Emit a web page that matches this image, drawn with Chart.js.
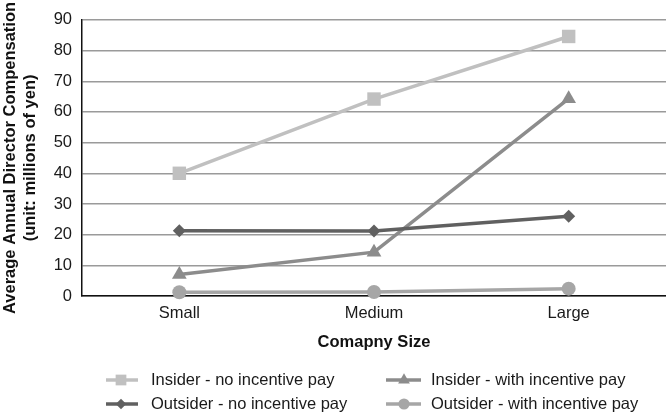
<!DOCTYPE html>
<html>
<head>
<meta charset="utf-8">
<script src="https://cdn.jsdelivr.net/npm/chart.js@4/dist/chart.umd.min.js"></script>
<style>
  html, body { margin: 0; padding: 0; background: #fff; }
  #wrap { width: 666px; height: 413px; position: relative; }
</style>
</head>
<body>
<div id="wrap"><canvas id="c" width="666" height="413"></canvas></div>
<script>
const categories = ['Small', 'Medium', 'Large'];
const insiderNoIncentive = [40, 64.2, 84.6];
const insiderWithIncentive = [7, 14.3, 64.3];
const outsiderNoIncentive = [21.3, 21.2, 26];
const outsiderWithIncentive = [1.2, 1.3, 2.4];
const yTicks = [0, 10, 20, 30, 40, 50, 60, 70, 80, 90];
const seriesNames = ['Insider - no incentive pay', 'Insider - with incentive pay', 'Outsider - no incentive pay', 'Outsider - with incentive pay'];

const FONT = "'Liberation Sans', Arial, Helvetica, sans-serif";
const FS = 16.5;

function ds(label, data, color, style, radius) {
  return {
    label, data,
    borderColor: color, backgroundColor: color,
    pointBackgroundColor: color, pointBorderColor: color,
    borderWidth: 3.5, pointStyle: style, pointRadius: radius, pointHoverRadius: radius,
    pointBorderWidth: 0, tension: 0, clip: false
  };
}

const datasets = [
  ds(seriesNames[3], outsiderWithIncentive, '#a6a6a6', 'circle', 7),
  ds(seriesNames[2], outsiderNoIncentive, '#606060', 'rectRot', 6.5),
  ds(seriesNames[1], insiderWithIncentive, '#8c8c8c', 'triangle', 8.5),
  ds(seriesNames[0], insiderNoIncentive, '#c0c0c0', 'rect', 9.5),
];

const legendLayout = [
  { name: seriesNames[0], x0: 106, x1: 138, mx: 121, tx: 151, y: 380 },
  { name: seriesNames[1], x0: 386, x1: 421, mx: 404, tx: 431, y: 380 },
  { name: seriesNames[2], x0: 106, x1: 138, mx: 121, tx: 151, y: 404 },
  { name: seriesNames[3], x0: 386, x1: 421, mx: 404, tx: 431, y: 404 },
];

const legendPlugin = {
  id: 'customLegend',
  afterDraw(chart) {
    const ctx = chart.ctx;
    ctx.save();
    legendLayout.forEach(item => {
      const d = chart.data.datasets.find(s => s.label === item.name);
      ctx.strokeStyle = d.borderColor;
      ctx.lineWidth = 3.5;
      ctx.beginPath();
      ctx.moveTo(item.x0, item.y);
      ctx.lineTo(item.x1, item.y);
      ctx.stroke();
      ctx.fillStyle = d.backgroundColor;
      ctx.strokeStyle = d.borderColor;
      Chart.helpers.drawPoint(ctx, { pointStyle: d.pointStyle, radius: d.pointRadius * 0.8, borderWidth: 0, rotation: 0 }, item.mx, item.y);
      ctx.fillStyle = '#1a1a1a';
      ctx.font = FS + 'px ' + FONT;
      ctx.textBaseline = 'middle';
      ctx.textAlign = 'left';
      ctx.fillText(item.name, item.tx, item.y);
    });
    ctx.restore();
  }
};

new Chart(document.getElementById('c'), {
  type: 'line',
  data: { labels: categories, datasets },
  plugins: [legendPlugin],
  options: {
    responsive: false,
    animation: false,
    devicePixelRatio: 1,
    layout: { autoPadding: false, padding: { top: 19, right: 0, bottom: 61, left: 0 } },
    plugins: { legend: { display: false }, tooltip: { enabled: false } },
    scales: {
      x: {
        type: 'category',
        offset: true,
        grid: { display: false, drawTicks: false },
        border: { display: true, color: '#111', width: 1.5 },
        ticks: { color: '#1a1a1a', font: { family: FONT, size: FS }, padding: 8 },
        title: { display: true, text: 'Comapny Size', color: '#111', font: { family: FONT, size: FS, weight: 'bold', lineHeight: 1.2 }, padding: { top: 0, bottom: 0 } },
        afterFit(scale) { scale.height = 56; scale.paddingLeft = 0; scale.paddingRight = 0; }
      },
      y: {
        min: 0, max: 90,
        afterBuildTicks(scale) { scale.ticks = yTicks.map(v => ({ value: v })); },
        grid: { color: '#9a9a9a', lineWidth: 1.5, drawTicks: false },
        border: { display: true, color: '#111', width: 1.5 },
        ticks: { color: '#1a1a1a', font: { family: FONT, size: FS }, padding: 10 },
        title: {
          display: true,
          text: ['Average Annual Director Compensation', '(unit: millions of yen)'],
          color: '#111',
          font: { family: FONT, size: FS, weight: 'bold', lineHeight: '20px' },
          padding: { top: 0, bottom: 0 }
        },
        afterFit(scale) { scale.width = 82; }
      }
    }
  }
});
</script>
</body>
</html>
